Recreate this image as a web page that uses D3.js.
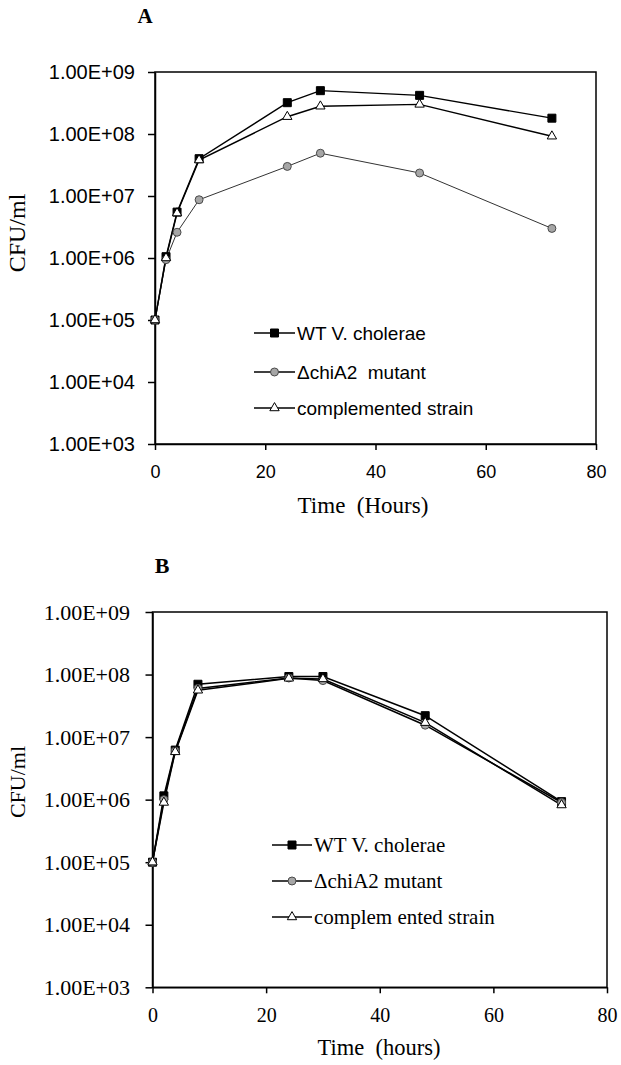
<!DOCTYPE html>
<html><head><meta charset="utf-8">
<script src="https://cdn.jsdelivr.net/npm/d3@7"></script>
<style>body{margin:0;background:#fff}svg{display:block}text{white-space:pre}</style>
</head><body>
<svg id="c" width="621" height="1065"></svg>
<script>
const hours = [0, 2, 4, 8, 24, 30, 48, 72];
const seriesNames = ["WT V. cholerae", "\u0394chiA2  mutant", "complemented strain"];
const seriesNamesB = ["WT V. cholerae", "\u0394chiA2 mutant", "complem ented strain"];
const A_wt   = [1e5, 1.05e6, 5.5e6, 4.0e7, 3.2e8, 5.0e8, 4.2e8, 1.8e8];
const A_mut  = [1e5, 9.4e5, 2.6e6, 8.7e6, 3.0e7, 4.9e7, 2.35e7, 3.0e6];
const A_comp = [1e5, 1.0e6, 5.3e6, 3.8e7, 1.9e8, 2.8e8, 3.0e8, 9.2e7];
const B_wt   = [1e5, 1.15e6, 6.2e6, 7.0e7, 9.3e7, 9.3e7, 2.2e7, 9.3e5];
const B_mut  = [1e5, 1.0e6, 6.0e6, 6.0e7, 8.8e7, 8.0e7, 1.55e7, 9.0e5];
const B_comp = [1e5, 9.0e5, 5.8e6, 5.6e7, 8.7e7, 8.5e7, 1.7e7, 8.2e5];
const yTickValues = [1e3, 1e4, 1e5, 1e6, 1e7, 1e8, 1e9];
const yTickLabels = ["1.00E+03", "1.00E+04", "1.00E+05", "1.00E+06", "1.00E+07", "1.00E+08", "1.00E+09"];
const xTickValues = [0, 20, 40, 60, 80];

const svg = d3.select("#c");

function panel(cfg) {
  const x = d3.scaleLinear().domain([0, 80]).range([cfg.left, cfg.right]);
  const y = d3.scaleLog().domain([1e3, 1e9]).range([cfg.bottom, cfg.top]);
  const g = svg.append("g");
  g.append("rect").attr("x", cfg.left).attr("y", cfg.top)
    .attr("width", cfg.right - cfg.left).attr("height", cfg.bottom - cfg.top)
    .attr("fill", "none").attr("stroke", "#000").attr("stroke-width", 1.5);
  const ya = g.append("g").attr("transform", `translate(${cfg.left},0)`)
    .call(d3.axisLeft(y).tickValues(yTickValues).tickFormat((d, i) => yTickLabels[i])
      .tickSize(7).tickSizeOuter(0).tickPadding(cfg.ypad));
  const xa = g.append("g").attr("transform", `translate(0,${cfg.bottom})`)
    .call(d3.axisBottom(x).tickValues(xTickValues).tickSize(6).tickSizeOuter(0).tickPadding(cfg.xpad));
  [ya, xa].forEach(a => {
    a.select(".domain").attr("stroke-width", 1.5);
    a.selectAll(".tick line").attr("stroke-width", 1.5);
    a.selectAll("text").attr("font-family", cfg.tickFont).attr("fill", "#000");
  });
  ya.selectAll("text").attr("font-size", cfg.yTickSize);
  xa.selectAll("text").attr("font-size", cfg.xTickSize);

  const series = [
    {vals: cfg.data[0], sym: d3.symbolSquare, size: 64, fill: "#000", stroke: "#000", line: "#000", lw: cfg.lw},
    {vals: cfg.data[1], sym: d3.symbolCircle, size: 50, fill: "#a6a6a6", stroke: "#4a4a4a", line: cfg.mutLine, lw: cfg.mutLw},
    {vals: cfg.data[2], sym: d3.symbolTriangle, size: 38, fill: "#fff", stroke: "#000", line: "#000", lw: cfg.lw}
  ];
  const line = d3.line().x((d, i) => x(hours[i])).y(d => y(d));
  series.forEach(s => {
    g.append("path").attr("d", line(s.vals)).attr("fill", "none")
      .attr("stroke", s.line).attr("stroke-width", s.lw);
  });
  series.forEach(s => {
    g.selectAll(null).data(s.vals).enter().append("path")
      .attr("d", d3.symbol().type(s.sym).size(s.size))
      .attr("transform", (d, i) => `translate(${x(hours[i])},${y(d)})`)
      .attr("fill", s.fill).attr("stroke", s.stroke).attr("stroke-width", 1);
  });
  series.forEach((s, i) => {
    const ly = cfg.legY[i];
    g.append("line").attr("x1", cfg.legX1).attr("x2", cfg.legX2).attr("y1", ly).attr("y2", ly)
      .attr("stroke", "#000").attr("stroke-width", 1.3);
    g.append("path").attr("d", d3.symbol().type(s.sym).size(s.size))
      .attr("transform", `translate(${(cfg.legX1 + cfg.legX2) / 2},${ly})`)
      .attr("fill", s.fill).attr("stroke", s.stroke).attr("stroke-width", 1);
    g.append("text").attr("x", cfg.legX2 + 2).attr("y", ly + cfg.legSize * 0.35)
      .attr("font-family", cfg.legFont).attr("font-size", cfg.legSize).text(cfg.names[i]);
  });
  g.append("text").attr("x", cfg.titleX).attr("y", cfg.titleY).attr("text-anchor", "middle")
    .attr("font-family", "Liberation Serif, Times New Roman, serif").attr("font-weight", "bold")
    .attr("font-size", cfg.titleSize).text(cfg.title);
  g.append("text").attr("x", cfg.xtX).attr("y", cfg.xtY).attr("text-anchor", "middle")
    .attr("font-family", "Liberation Serif, Times New Roman, serif").attr("font-size", cfg.xtSize)
    .text(cfg.xTitle);
  g.append("text").attr("transform", `translate(${cfg.ytX},${cfg.ytY}) rotate(-90)`)
    .attr("text-anchor", "middle")
    .attr("font-family", "Liberation Serif, Times New Roman, serif").attr("font-size", cfg.ytSize)
    .text("CFU/ml");
}

panel({
  left: 155, right: 596, top: 72, bottom: 444, ypad: 13, xpad: 15,
  tickFont: "Liberation Sans, Arial, sans-serif", yTickSize: 20, xTickSize: 18,
  data: [A_wt, A_mut, A_comp], lw: 1.4, mutLine: "#333", mutLw: 1,
  legX1: 254, legX2: 295, legY: [333, 372, 408], legFont: "Liberation Sans, Arial, sans-serif", legSize: 19,
  names: seriesNames,
  title: "A", titleX: 145, titleY: 23, titleSize: 21,
  xTitle: "Time  (Hours)", xtX: 363, xtY: 513, xtSize: 23, ytX: 25, ytY: 233, ytSize: 24
});
panel({
  left: 152.5, right: 607, top: 612, bottom: 987.3, ypad: 15.5, xpad: 15,
  tickFont: "Liberation Serif, Times New Roman, serif", yTickSize: 22, xTickSize: 20,
  data: [B_wt, B_mut, B_comp], lw: 1.5, mutLine: "#000", mutLw: 1.5,
  legX1: 272, legX2: 312, legY: [845, 881, 917], legFont: "Liberation Serif, Times New Roman, serif", legSize: 21,
  names: seriesNamesB,
  title: "B", titleX: 162, titleY: 573, titleSize: 22,
  xTitle: "Time  (hours)", xtX: 379, xtY: 1055, xtSize: 22.5, ytX: 25, ytY: 782, ytSize: 22
});
</script>
</body></html>
